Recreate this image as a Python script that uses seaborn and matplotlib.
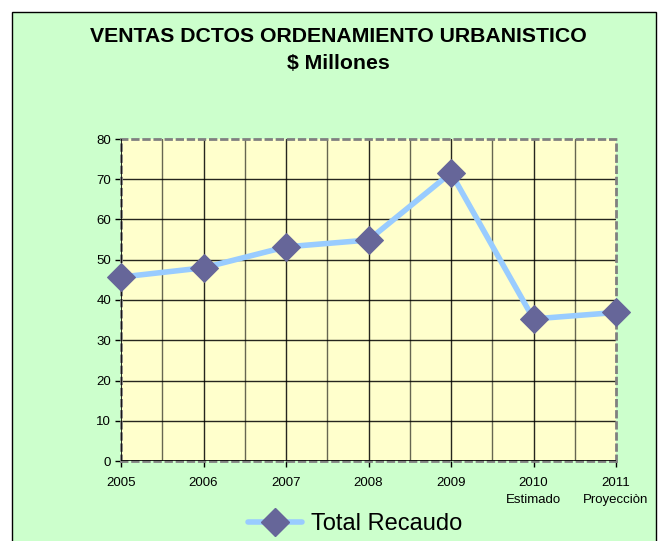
import pandas as pd
import numpy as np
import matplotlib
matplotlib.use("Agg")
import matplotlib.pyplot as plt
from matplotlib.patches import Rectangle
from matplotlib.lines import Line2D
import seaborn as sns

# chart data
years = ["2005", "2006", "2007", "2008", "2009", "2010\nEstimado", "2011\nProyecciòn"]
recaudo = [45.7, 48.0, 53.2, 54.9, 71.6, 35.3, 36.9]
y_ticks = [0, 10, 20, 30, 40, 50, 60, 70, 80]

GREEN = "#CCFFCC"
PLOT_BG = "#FFFFCC"
LINE = "#99CCFF"
MARKER = "#666699"

sns.set_style("white")
plt.rcParams["font.family"] = ["Liberation Sans", "DejaVu Sans"]
plt.rcParams["text.color"] = "black"
plt.rcParams["xtick.color"] = "black"
plt.rcParams["ytick.color"] = "black"

df = pd.DataFrame({"pos": np.arange(len(years)), "valor": recaudo})

fig = plt.figure(figsize=(6.64, 5.41), dpi=100)
fig.patch.set_facecolor("white")

# green chart area with black frame (bottom cut off like the reference)
W, H = 664, 541
fig.patches.append(Rectangle((12 / W, -0.05), (656 - 12) / W, 1.05 - 12 / H,
                             transform=fig.transFigure, facecolor=GREEN,
                             edgecolor="black", linewidth=1.0, zorder=-10))

ax = fig.add_axes([121 / W, 1 - 461 / H, (616 - 121) / W, (461 - 139) / H])
ax.set_zorder(5)
ax.set_facecolor(PLOT_BG)

# grid: horizontal every 10, vertical every half year
for v in y_ticks[1:-1]:
    ax.axhline(v, color="black", lw=1.0, alpha=0.85, zorder=1)
for xv in np.arange(0.5, len(years) - 1, 0.5):
    ax.axvline(xv, color="black", lw=1.0, alpha=0.6 if xv % 1 else 0.85, zorder=1)

sns.lineplot(data=df, x="pos", y="valor", ax=ax, color=LINE, lw=4,
             marker="D", markersize=14, markerfacecolor=MARKER,
             markeredgecolor=MARKER, clip_on=False, zorder=5)

ax.set_xlim(0, len(years) - 1)
ax.set_ylim(0, 80)
ax.set_xticks(df["pos"])
ax.set_xticklabels(years, fontsize=9.5, linespacing=1.55)
ax.set_yticks(y_ticks)
ax.set_yticklabels([str(t) for t in y_ticks], fontsize=9.5)
ax.tick_params(axis="both", direction="out", length=4, width=1, color="black", pad=3)
ax.tick_params(axis="x", pad=7.5)
ax.tick_params(left=True, bottom=True)
ax.set_xlabel("")
ax.set_ylabel("")

for side in ["top", "right", "left", "bottom"]:
    ax.spines[side].set_visible(True)
    ax.spines[side].set_color("#808080")
    ax.spines[side].set_linestyle((0, (2, 2)))
    ax.spines[side].set_linewidth(2)
ax.axvline(0, color="black", lw=1.2, zorder=3)
ax.axhline(0, color="black", lw=1.2, zorder=3)

fig.text(338 / W, 1 - 36 / H, "VENTAS DCTOS ORDENAMIENTO URBANISTICO",
         ha="center", va="center", fontsize=15.3, fontweight="bold")
fig.text(338 / W, 1 - 64 / H, "$ Millones",
         ha="center", va="center", fontsize=15.3, fontweight="bold")

handle = Line2D([], [], color=LINE, lw=4, marker="D", markersize=14,
                markerfacecolor=MARKER, markeredgecolor=MARKER)
fig.legend([handle], ["Total Recaudo"], loc="center", bbox_to_anchor=(355 / W, 1 - 524 / H),
           frameon=False, fontsize=17, handlelength=2.3, handletextpad=0.4)

fig.savefig("out.png", dpi=100)
